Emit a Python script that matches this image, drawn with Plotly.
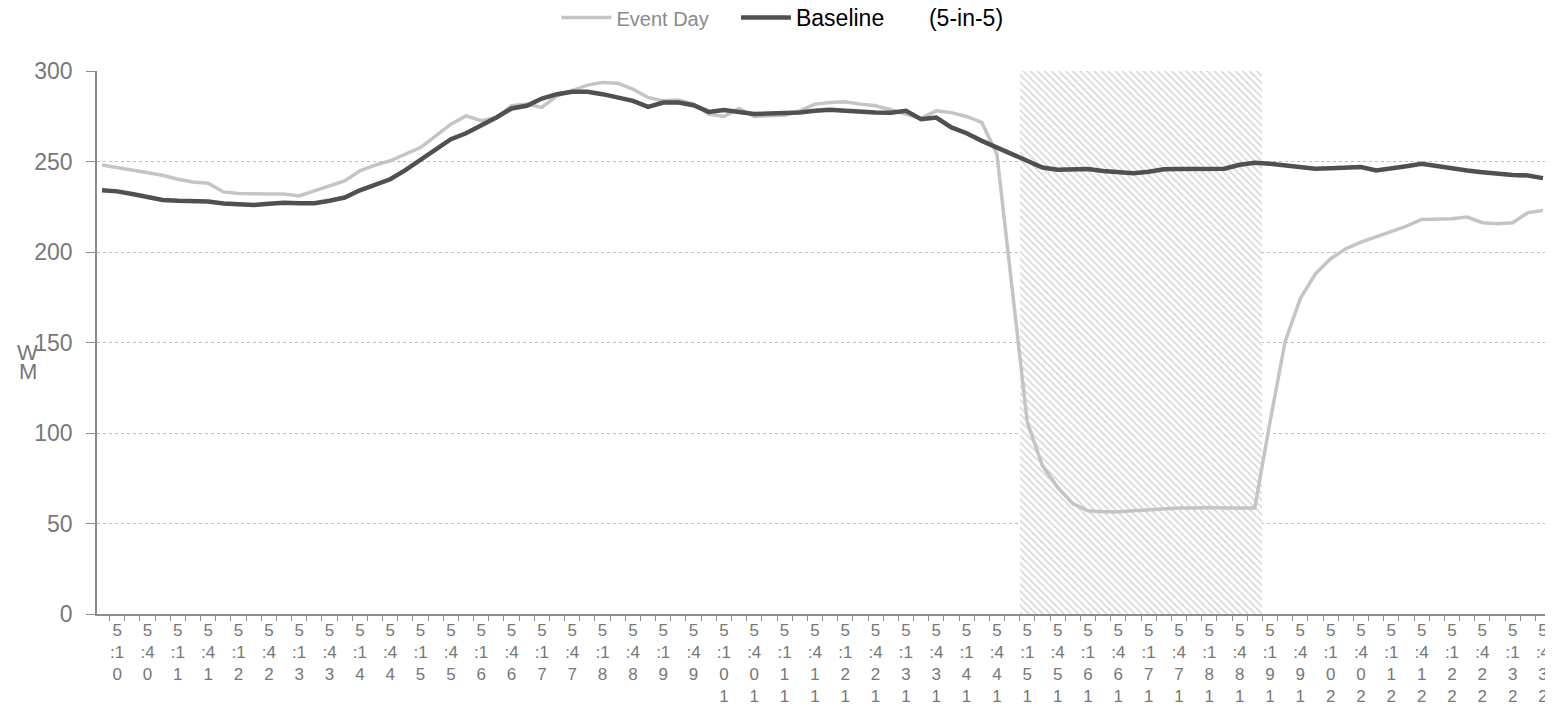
import plotly.graph_objects as go

# 15-minute interval timestamps (0:00 .. 23:45)
times = [f"{h}:{m:02d}" for h in range(24) for m in (0, 15, 30, 45)]

event_day = [
    248.1, 246.7, 245.2, 243.9, 242.4, 240.2, 238.7, 238.0, 233.2, 232.3,
    232.0, 232.0, 232.0, 231.0, 233.8, 236.5, 239.3, 244.8, 248.0, 250.4,
    254.0, 257.7, 264.2, 270.6, 275.2, 272.5, 274.3, 280.8, 281.7, 279.9,
    286.3, 289.0, 292.2, 293.7, 293.3, 290.0, 285.4, 283.5, 284.0, 281.7,
    276.2, 274.9, 279.3, 274.9, 275.2, 275.6, 278.0, 281.7, 282.6, 283.0,
    281.7, 280.8, 278.6, 276.2, 273.8, 278.0, 277.0, 274.9, 271.6, 254.0,
    178.0, 106.0, 82.0, 70.0, 61.0, 57.0, 56.5, 56.5, 57.0, 57.5,
    58.0, 58.5, 58.5, 58.8, 58.5, 58.5, 58.5, 106.0, 150.4, 174.3,
    188.0, 196.3, 201.8, 205.5, 208.3, 211.0, 214.3, 218.0, 218.0, 218.4,
    219.3, 216.2, 215.6, 216.2, 221.7, 223.0,
]

baseline = [
    234.1, 233.5, 232.0, 230.5, 228.7, 228.3, 228.3, 227.9, 226.8, 226.4,
    226.0, 226.6, 227.2, 227.0, 227.0, 228.3, 230.1, 234.1, 236.9, 240.2,
    245.2, 250.9, 256.8, 262.3, 265.6, 269.7, 274.3, 279.3, 280.8, 284.8,
    287.2, 288.5, 288.5, 287.2, 285.4, 283.5, 280.2, 282.6, 282.6, 281.1,
    277.4, 278.5, 277.4, 276.2, 276.5, 276.7, 277.1, 278.0, 278.6, 278.0,
    277.4, 277.1, 277.0, 278.0, 273.4, 274.3, 268.8, 265.6, 261.4, 257.7,
    254.0, 250.4, 246.7, 245.4, 245.8, 245.8, 244.8, 243.9, 243.5, 244.3,
    245.7, 245.9, 246.0, 246.3, 246.0, 248.2, 249.3, 248.7, 247.8, 246.3,
    246.0, 246.3, 246.9, 246.9, 245.0, 246.0, 247.4, 248.7, 247.4, 246.0,
    245.0, 244.1, 243.2, 242.6, 242.3, 240.8,
]

# event window (15:15 .. 19:00 interval endings)
event_start, event_end = "15:15", "19:00"

x = list(range(len(times)))
i0, i1 = times.index(event_start), times.index(event_end)
event_x = list(range(i0, i1 + 1))
event_top = [300] * len(event_x)


def stacked(t):
    hh, mm = t.split(":")
    rows = [mm[1], ":" + mm[0]] + list(reversed(hh))
    return "<br>".join(rows)


tickvals = x[1::2]
ticktext = [stacked(times[i]) for i in tickvals]

NB = "\u00a0"

fig = go.Figure()

fig.add_trace(go.Bar(
    x=event_x, y=event_top, width=1, showlegend=False, hoverinfo="skip",
    marker=dict(color="white", line=dict(width=0),
                pattern=dict(shape="\\", fgcolor="#a8a8a8", bgcolor="white",
                             size=5, solidity=0.3)),
))

fig.add_trace(go.Scatter(
    x=x, y=event_day, mode="lines",
    name="<span style='color:#8a8a8a;font-size:20px'>Event Day" + NB * 4 + "</span>",
    line=dict(color="#c4c4c4", width=3.5),
))
fig.add_trace(go.Scatter(
    x=x, y=baseline, mode="lines",
    name="<span style='color:#000000;font-size:23px'>Baseline" + NB * 7 + "(5-in-5)</span>",
    line=dict(color="#505050", width=4.5),
))

# the page body adds an 8px offset; the figure is sized to fit the 1553x708 window
fig.update_layout(
    width=1545, height=700,
    margin=dict(l=89, r=5, t=63, b=94, autoexpand=False),
    paper_bgcolor="white", plot_bgcolor="white",
    font=dict(family="Liberation Sans, Arial, sans-serif", color="#777777"),
    bargap=0,
    legend=dict(orientation="h", xref="container", yref="container",
                x=0.355, xanchor="left", y=0.986, yanchor="middle",
                font=dict(size=21, color="#000000"), itemwidth=50,
                bgcolor="rgba(0,0,0,0)"),
    xaxis=dict(
        range=[-0.33, 95.33], tickmode="array", tickvals=tickvals,
        ticktext=ticktext, ticks="", showgrid=False, zeroline=False,
        showline=True, linecolor="#8c8c8c", linewidth=1.5,
        tickfont=dict(size=17, color="#777777"), tickangle=0,
        automargin=False,
        minor=dict(tickmode="linear", tick0=0.5, dtick=1, ticks="outside",
                   ticklen=5, tickcolor="#8c8c8c", tickwidth=1, showgrid=False),
    ),
    yaxis=dict(
        range=[0, 300], tickmode="array", tickvals=[0, 50, 100, 150, 200, 250, 300],
        ticks="outside", ticklen=9, tickcolor="#8c8c8c", tickwidth=1,
        showline=True, linecolor="#8c8c8c", linewidth=1.5,
        showgrid=True, gridcolor="#bdbdbd", griddash="dot", gridwidth=1,
        zeroline=False, tickfont=dict(size=23, color="#777777"),
        ticklabelstandoff=9, automargin=False,
    ),
    annotations=[
        dict(text="W", xref="paper", yref="paper", x=-0.0476, y=0.4807,
             xanchor="center", yanchor="middle", showarrow=False,
             font=dict(size=22, color="#777777")),
        dict(text="M", xref="paper", yref="paper", x=-0.0476, y=0.4475,
             xanchor="center", yanchor="middle", showarrow=False,
             font=dict(size=22, color="#777777")),
    ],
)

fig.write_html("out.html")
